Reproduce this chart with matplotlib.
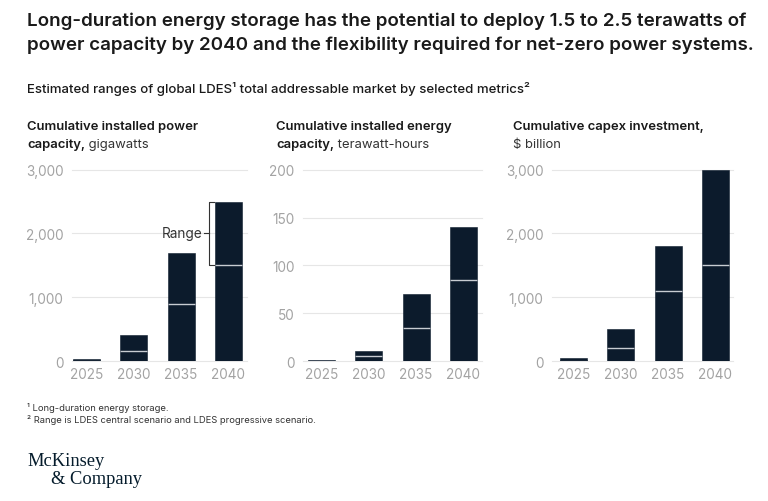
import matplotlib
matplotlib.use("Agg")
import matplotlib.pyplot as plt
import numpy as np

plt.rcParams['font.family'] = ['Inter', 'DejaVu Sans']

W, H = 768, 502

years = ["2025", "2030", "2035", "2040"]
power_low = [10, 150, 900, 1500]
power_high = [30, 400, 1700, 2500]
energy_low = [0.5, 5, 35, 85]
energy_high = [1, 10, 70, 140]
capex_low = [20, 200, 1100, 1500]
capex_high = [50, 500, 1800, 3000]

panel_titles = [("Cumulative installed power", "capacity,", " gigawatts"),
                ("Cumulative installed energy", "capacity,", " terawatt-hours"),
                ("Cumulative capex investment,", "", "$ billion")]
yticks_list = [[0, 1000, 2000, 3000], [0, 50, 100, 150, 200], [0, 1000, 2000, 3000]]
ymax_list = [3000, 200, 3000]

BAR = "#0c1b2c"
GRID = "#e6e6e6"
TICK = "#a3a3a3"
TXT = "#1a1a1a"

fig = plt.figure(figsize=(W / 100, H / 100), dpi=100)

def fx(px):
    return px / W

def fy(py):
    return 1 - py / H

# title
fig.text(fx(27), fy(21), "Long-duration energy storage has the potential to deploy 1.5 to 2.5 terawatts of",
         fontsize=13.5, fontweight='semibold', color=TXT, va='center', ha='left')
fig.text(fx(27), fy(45), "power capacity by 2040 and the flexibility required for net-zero power systems.",
         fontsize=13.5, fontweight='semibold', color=TXT, va='center', ha='left')
fig.text(fx(27), fy(89), "Estimated ranges of global LDES¹ total addressable market by selected metrics²",
         fontsize=9.5, fontweight='medium', color=TXT, va='center', ha='left')

axes_px = [(72, 247), (303, 482), (552, 733)]
centres0 = [86.5, 321.5, 573.5]
title_x = [27, 276, 513]
lows = [power_low, energy_low, capex_low]
highs = [power_high, energy_high, capex_high]

y0_px, ytop_px = 362, 170.7
x = np.arange(len(years))
spacing = 47.3
bw = 27 / spacing

axs = []
for i in range(3):
    l, r = axes_px[i]
    ax = fig.add_axes([fx(l), fy(y0_px), fx(r - l), (y0_px - ytop_px) / H])
    axs.append(ax)
    lo = np.array(lows[i], dtype=float)
    hi = np.array(highs[i], dtype=float)
    ax.bar(x, lo, width=bw, color=BAR, edgecolor=BAR, linewidth=0.4, zorder=3)
    ax.bar(x, hi - lo, bottom=lo, width=bw, color=BAR, edgecolor=BAR, linewidth=0.4, zorder=3)
    ax.hlines(lo[1:], x[1:] - bw / 2, x[1:] + bw / 2, colors="#c8ccd2", linewidth=1.0, zorder=4)
    c0 = centres0[i]
    ax.set_xlim((l - c0) / spacing, (r - c0) / spacing)
    ax.set_ylim(0, ymax_list[i])
    ax.set_yticks(yticks_list[i])
    ax.set_yticklabels([f"{v:,}" for v in yticks_list[i]])
    ax.set_xticks(x)
    ax.set_xticklabels(years)
    ax.tick_params(axis='both', length=0, labelsize=9.8, labelcolor=TICK)
    ax.tick_params(axis='y', pad=6)
    ax.tick_params(axis='x', pad=4)
    for s in ax.spines.values():
        s.set_visible(False)
    ax.grid(axis='y', color=GRID, linewidth=0.8, zorder=0)
    ax.set_axisbelow(True)
    for gl in ax.get_ygridlines():
        gl.set_clip_on(False)

    t1, t2b, t2r = panel_titles[i]
    fig.text(fx(title_x[i]), fy(127), t1, fontsize=9.4, fontweight='semibold', color=TXT, va='center', ha='left')
    if t2b:
        tb = fig.text(fx(title_x[i]), fy(145), t2b, fontsize=9.4, fontweight='semibold', color=TXT,
                      va='center', ha='left')
        fig.add_artist(matplotlib.text.Annotation(t2r, xy=(1, 0.5), xycoords=tb, va='center', ha='left',
                                                  fontsize=9.4, color="#333333", annotation_clip=False))
    else:
        fig.text(fx(title_x[i]), fy(145), t2r, fontsize=9.4, color="#333333", va='center', ha='left')

# Range bracket on first panel
ax = axs[0]
bx = 3 - bw / 2 - 6 / spacing
tickx = 3 - bw / 2 - 0.5 / spacing
ax.plot([tickx, bx, bx, tickx], [power_high[3], power_high[3], power_low[3], power_low[3]],
        color="#333333", linewidth=0.8, clip_on=False, zorder=5)
mid = (power_high[3] + power_low[3]) / 2
ax.plot([bx - 5 / spacing, bx], [mid, mid], color="#333333", linewidth=0.8, clip_on=False, zorder=5)
ax.text(bx - 6 / spacing, mid, "Range", ha='right', va='center', fontsize=9.8, color="#333333")

# footnotes
fig.text(fx(27), fy(408), "¹ Long-duration energy storage.", fontsize=6.75, color="#333333", va='center')
fig.text(fx(27), fy(420), "² Range is LDES central scenario and LDES progressive scenario.", fontsize=6.75,
         color="#333333", va='center')

# logo
fig.text(fx(27), fy(462), "McKinsey", fontsize=13.3, family='Liberation Serif', color="#051c2c", va='center')
fig.text(fx(51), fy(480), "& Company", fontsize=13.3, family='Liberation Serif', color="#051c2c", va='center')

fig.savefig("out.png", dpi=100, facecolor='white')
